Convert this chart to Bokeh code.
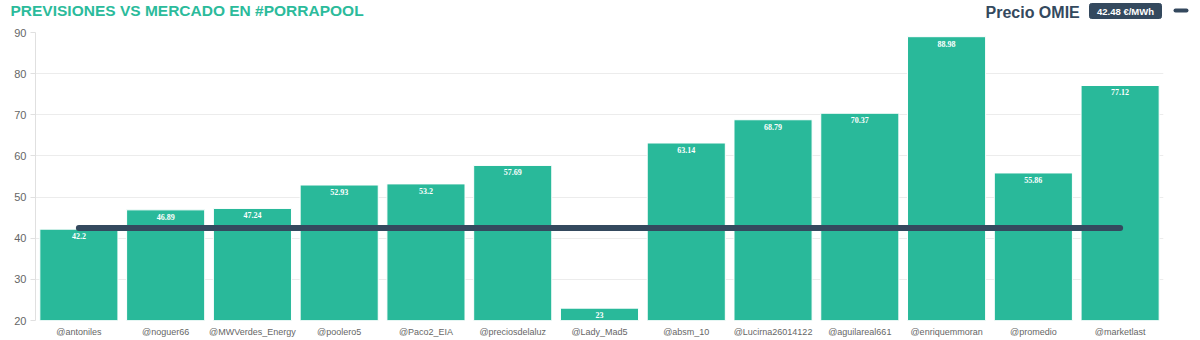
from bokeh.plotting import figure
from bokeh.models import ColumnDataSource, FactorRange
from bokeh.layouts import column, row
from bokeh.core.properties import value
from bokeh.embed import file_html
from bokeh.resources import INLINE

# Forecasts per participant and the market price
usuarios = ["@antoniles", "@noguer66", "@MWVerdes_Energy", "@poolero5", "@Paco2_EIA",
            "@preciosdelaluz", "@Lady_Mad5", "@absm_10", "@Lucirna26014122",
            "@aguilareal661", "@enriquemmoran", "@promedio", "@marketlast"]
previsiones = [42.2, 46.89, 47.24, 52.93, 53.2, 57.69, 23, 63.14, 68.79,
               70.37, 88.98, 55.86, 77.12]
precio_omie = 42.48
y_ticks = [20, 30, 40, 50, 60, 70, 80, 90]

TEAL = "#29b99a"
DARK = "#34495e"
FONT = "Liberation Sans"

# ---- header strip: title, price caption and badge ----
head = figure(width=1200, height=24, x_range=(0, 1200), y_range=(24, 0),
              output_backend="svg", toolbar_location=None, min_border=0,
              outline_line_color=None, x_axis_type=None, y_axis_type=None)
head.xgrid.grid_line_color = None
head.ygrid.grid_line_color = None

head.text(x=[10], y=[10], text=["PREVISIONES VS MERCADO EN #PORRAPOOL"],
          text_font=value(FONT), text_font_style="bold", text_font_size="15.5px",
          text_color="#2bbb9b", text_baseline="middle")
head.text(x=[985], y=[12], text=["Precio OMIE"], text_font=value(FONT),
          text_font_style="bold", text_font_size="16px", text_color=DARK,
          text_baseline="middle")
head.quad(left=[1089], right=[1161], top=[3], bottom=[18], fill_color=DARK,
          line_color=DARK, border_radius=2)
head.text(x=[1125], y=[10.5], text=[f"{precio_omie} €/MWh"], text_font=value(FONT),
          text_font_style="bold", text_font_size="9.5px", text_color="white",
          text_align="center", text_baseline="middle")
head.line(x=[1175, 1186], y=[10, 10], line_color=DARK, line_width=4,
          line_cap="round")

# ---- bar chart ----
src = ColumnDataSource(dict(
    x=usuarios,
    y=previsiones,
    txt=[f"{v:g}" for v in previsiones],
))

p = figure(width=1200, height=316, x_range=FactorRange(*usuarios, range_padding=0),
           y_range=(20, 90), output_backend="svg", toolbar_location=None,
           min_border_left=35, min_border_right=37, min_border_top=8,
           min_border_bottom=20, background_fill_color="white",
           border_fill_color="white", outline_line_color=None)

p.vbar(x="x", top="y", bottom=20, width=0.9, source=src, fill_color=TEAL,
       line_color="white", line_width=1)

p.text(x="x", y="y", text="txt", source=src, text_color="white",
       text_font=value("Liberation Serif"), text_font_style="bold",
       text_font_size="8px", text_align="center", text_baseline="middle",
       y_offset=7)

p.line(x=[usuarios[0], usuarios[-1]], y=[precio_omie, precio_omie],
       line_color=DARK, line_width=6, line_cap="round")

# axes
p.yaxis.ticker = y_ticks
p.yaxis.axis_line_color = "#e0e0e0"
p.yaxis.major_tick_line_color = "#e0e0e0"
p.yaxis.major_tick_out = 5
p.yaxis.major_tick_in = 0
p.yaxis.minor_tick_line_color = None
p.yaxis.major_label_text_color = "#666666"
p.yaxis.major_label_text_font = FONT
p.yaxis.major_label_text_font_size = "11px"
p.yaxis.major_label_standoff = 4

p.xaxis.axis_line_color = None
p.xaxis.major_tick_line_color = None
p.xaxis.major_tick_out = 0
p.xaxis.major_tick_in = 0
p.xaxis.minor_tick_line_color = None
p.xaxis.major_label_text_color = "#666666"
p.xaxis.major_label_text_font = FONT
p.xaxis.major_label_text_font_size = "9px"
p.xaxis.major_label_standoff = 6

p.xgrid.grid_line_color = None
p.ygrid.grid_line_color = "#ececec"
p.ygrid.ticker = y_ticks

# header kept in its own row so its frame is not lined up with the chart's
layout = column(row(head), p, spacing=0)
open("out.html", "w").write(file_html(layout, INLINE))
